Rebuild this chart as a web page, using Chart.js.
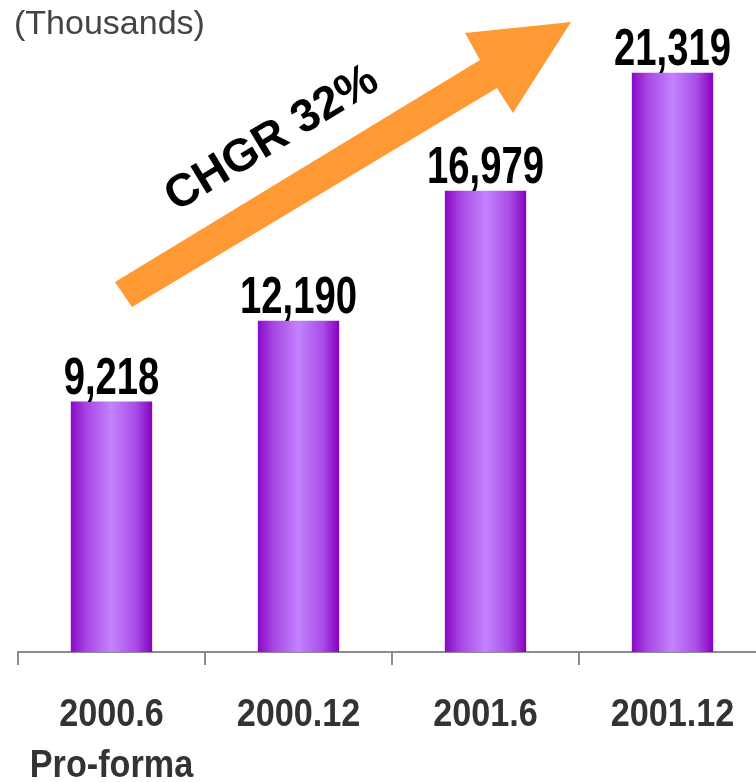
<!DOCTYPE html>
<html>
<head>
<meta charset="utf-8">
<script src="https://cdn.jsdelivr.net/npm/chart.js@4"></script>
<style>
  html, body { margin: 0; padding: 0; background: #fff; overflow: hidden; }
  #wrap { position: relative; width: 770px; height: 782px; }
</style>
</head>
<body>
<div id="wrap"><canvas id="myChart"></canvas></div>
<script>
const categories = [["2000.6", "Pro-forma"], "2000.12", "2001.6", "2001.12"];
const subscribers = [9218, 12190, 16979, 21319];
const unitLabel = "(Thousands)";
const growthLabel = "CHGR 32%";

const SANS = "'Liberation Sans', Arial, sans-serif";

// horizontal purple shading across each bar
function barGradient(context) {
  const chart = context.chart;
  const x = chart.scales.x;
  if (!x || !chart.chartArea) return "#a040e0";
  const center = x.getPixelForValue(context.dataIndex);
  const half = (x.width / categories.length) * 0.435 / 2;
  const g = chart.ctx.createLinearGradient(center - half, 0, center + half, 0);
  g.addColorStop(0, "#8a08c8");
  g.addColorStop(0.2, "#a848e4");
  g.addColorStop(0.5, "#c383ff");
  g.addColorStop(0.8, "#a94ce6");
  g.addColorStop(1, "#8600c0");
  return g;
}

// condensed bold text: squeeze Liberation Sans horizontally
function narrowText(ctx, text, x, y, size, squeeze, color) {
  ctx.save();
  ctx.translate(x, y);
  ctx.scale(squeeze, 1);
  ctx.font = "bold " + size + "px " + SANS;
  ctx.fillStyle = color;
  ctx.textAlign = "center";
  ctx.textBaseline = "alphabetic";
  ctx.fillText(text, 0, 0);
  ctx.restore();
}

const valueLabels = {
  id: "valueLabels",
  afterDatasetsDraw(chart) {
    const meta = chart.getDatasetMeta(0);
    meta.data.forEach((bar, i) => {
      narrowText(chart.ctx, subscribers[i].toLocaleString("en-US"), bar.x, bar.y - 8, 51, 0.75, "#000");
    });
  }
};

// category names under the axis
const categoryLabels = {
  id: "categoryLabels",
  afterDraw(chart) {
    const x = chart.scales.x;
    const top = chart.chartArea.bottom;
    categories.forEach((cat, i) => {
      const lines = Array.isArray(cat) ? cat : [cat];
      const cx = x.getPixelForValue(i);
      lines.forEach((line, j) => {
        narrowText(chart.ctx, line, cx, top + 74 + j * 51, 38, 0.9, "#333");
      });
    });
  }
};

const growthArrow = {
  id: "growthArrow",
  afterDraw(chart) {
    const { ctx } = chart;
    ctx.save();
    ctx.fillStyle = "#ff9933";
    ctx.beginPath();
    ctx.moveTo(115, 282);
    ctx.lineTo(480, 60);
    ctx.lineTo(465, 33);
    ctx.lineTo(571, 22);
    ctx.lineTo(513, 113);
    ctx.lineTo(497, 88);
    ctx.lineTo(132, 307);
    ctx.closePath();
    ctx.fill();

    ctx.translate(272, 139);
    ctx.rotate(-31.3 * Math.PI / 180);
    ctx.font = "bold 46px " + SANS;
    ctx.fillStyle = "#000";
    ctx.textAlign = "center";
    ctx.textBaseline = "middle";
    ctx.fillText(growthLabel, 0, 0);
    ctx.restore();

    ctx.save();
    ctx.font = "34px " + SANS;
    ctx.fillStyle = "#444";
    ctx.textBaseline = "top";
    ctx.fillText(unitLabel, 14, 8);
    ctx.restore();
  }
};

const ctx = document.getElementById("myChart").getContext("2d");
const myChart = new Chart(ctx, {
  type: "bar",
  data: {
    labels: categories,
    datasets: [
      {
        data: subscribers,
        backgroundColor: barGradient,
        borderWidth: 0,
        barPercentage: 1,
        categoryPercentage: 0.435,
      },
    ],
  },
  options: {
    responsive: true,
    maintainAspectRatio: false,
    animation: false,
    layout: { padding: { left: 18, right: 4, top: 0, bottom: 0 } },
    scales: {
      x: {
        afterFit(scale) { scale.height = 130; },
        grid: {
          offset: true,
          drawOnChartArea: false,
          drawTicks: true,
          tickLength: 13,
          color: "#8c8c8c",
          lineWidth: 2,
        },
        border: { color: "#8c8c8c", width: 2 },
        ticks: { display: false },
      },
      y: {
        display: false,
        min: 0,
        max: 24000,
      },
    },
    plugins: {
      legend: { display: false },
      tooltip: { enabled: false },
    },
  },
  plugins: [valueLabels, categoryLabels, growthArrow],
});
</script>
</body>
</html>
